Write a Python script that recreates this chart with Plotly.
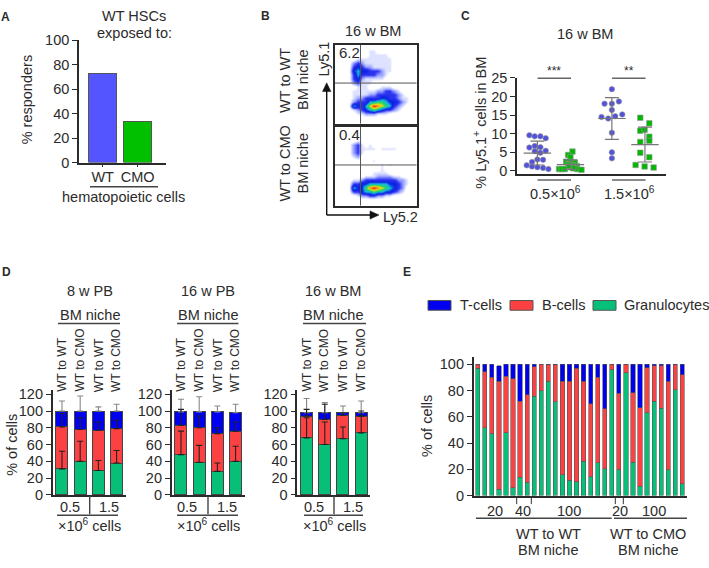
import plotly.graph_objects as go

W, H = 709, 568
INK = "#2b2b2b"
FONT = "Liberation Sans, Arial, sans-serif"
TS = 14.5

# ---------- Panel A
a_cats = ["WT", "CMO"]
a_vals = [73, 33.5]
a_ticks = [0, 20, 40, 60, 80, 100]

# ---------- Panel B (density, 20 x 20 cells, top row first)
b_wt = [
 [0]*20,
 [0,0,0,0,0,0,0,0,1,1,0,0,0,0,0,0,0,0,0,0],
 [0,0,0,0,0,0,0,0,1,1,1,1,1,0,0,0,0,0,0,0],
 [0,0,0,0,0,1,1,1,1,1,1,1,1,1,0,0,0,0,0,0],
 [0,0,0,0,2,3,2,1,1,1,1,1,1,1,0,0,0,0,0,0],
 [0,0,0,0,3,4,3,2,2,1,1,1,1,1,0,0,0,0,0,0],
 [0,0,0,0,4,5,4,4,3,3,3,2,1,1,0,0,0,0,0,0],
 [0,0,0,0,3,5,3,3,3,3,2,2,1,0,0,0,0,0,0,0],
 [0,0,0,0,3,4,2,1,1,1,1,1,0,0,0,0,0,0,0,0],
 [0,0,0,0,2,3,1,1,1,0,0,0,0,0,0,0,0,0,0,0],
 [0,0,0,0,0,1,1,1,0,0,0,1,1,1,0,0,0,0,0,0],
 [0,0,0,0,1,1,1,1,1,1,2,2,3,3,2,1,0,0,0,0],
 [0,0,0,0,1,1,1,1,2,2,3,3,3,3,3,2,1,0,0,0],
 [0,0,0,0,1,2,2,3,3,3,3,4,4,3,3,2,1,1,0,0],
 [0,0,0,0,2,3,3,3,5,5,6,6,5,4,4,3,2,1,0,0],
 [0,0,0,0,5,4,3,5,7,9,8,7,6,5,3,2,1,0,0,0],
 [0,0,0,0,1,2,3,4,5,6,5,4,3,3,2,1,0,0,0,0],
 [0,0,0,0,0,1,1,2,2,2,1,1,1,0,0,0,0,0,0,0],
 [0]*20,
 [0]*20,
]
b_cmo = [
 [0]*20,
 [0]*20,
 [0]*20,
 [0,0,0,0,0,1,0,0,0,0,0,0,0,0,0,0,0,0,0,0],
 [0,0,0,0,2,3,1,0,1,0,0,0,0,0,0,0,0,0,0,0],
 [0,0,0,0,2,3,1,1,1,1,0,1,1,1,1,0,0,0,0,0],
 [0,0,0,0,2,3,1,0,0,0,0,0,0,0,0,0,0,0,0,0],
 [0,0,0,0,1,2,0,0,0,0,0,0,0,0,0,0,0,0,0,0],
 [0,0,0,0,0,0,0,0,0,1,0,0,0,0,0,0,0,0,0,0],
 [0,0,0,0,0,0,0,0,0,0,0,1,0,1,0,0,0,0,0,0],
 [0,0,0,0,0,0,0,0,0,0,0,1,0,0,0,0,0,0,0,0],
 [0,0,0,0,0,0,0,0,0,1,1,1,1,0,0,0,0,0,0,0],
 [0,0,0,0,0,0,0,1,1,1,2,2,2,2,1,1,0,0,0,0],
 [0,0,0,0,1,1,2,3,3,3,3,3,3,3,3,2,2,1,0,0],
 [0,0,0,0,3,3,4,4,5,5,5,5,5,4,4,3,2,1,0,0],
 [0,0,0,0,5,4,4,6,8,9,8,7,6,5,4,3,2,0,0,0],
 [0,0,0,0,3,3,4,5,5,6,5,5,4,4,3,2,1,0,0,0],
 [0,0,0,0,0,1,2,2,3,3,2,2,1,1,0,0,0,0,0,0],
 [0]*20,
 [0]*20,
]
b_scale = [[0, "#ffffff"], [0.06, "#ffffff"], [0.11, "#dfe3ff"], [0.22, "#9aa4ff"], [0.33, "#2c34f2"],
           [0.44, "#0a20e0"], [0.56, "#18c0e0"], [0.67, "#20d060"], [0.78, "#e4e41c"],
           [0.89, "#ff8c10"], [1, "#e81010"]]

# ---------- Panel C
c_groups = [1.0, 1.99, 3.23, 4.22]
c_g1_x = [-.24,-.08,.09,.25,-.24,-.08,.09,-.08,.09,.25,0,.17,-.16,-.32,-.16,0,.17,.33]
c_g1_y = [9.6,9.3,9.3,8.8,6.3,6.7,6.4,5.3,4.9,5.4,3.1,3.0,2.4,1.5,1.2,1.0,.8,.5]
c_g2_x = [.06,-.07,0,-.13,0,.13,-.07,.06,.19,-.34,-.26,-.17,0,.13,.2,.33,.08,-.04]
c_g2_y = [5.2,4.3,3.7,2.5,2.4,2.2,1.8,1.6,1.3,.5,.5,.5,1.0,1.0,.5,.3,.7,1.4]
c_g3_x = [0,-.22,0,.21,0,-.31,-.11,.1,.31,0,0,0]
c_g3_y = [22,18.1,18.1,18.7,16.4,14.5,14.1,14.7,15.2,10.3,5.0,3.4]
c_g4_x = [-.14,.13,-.14,-.01,.13,.13,-.14,-.14,.13,-.28,-.01,.26]
c_g4_y = [14.3,12.8,10.8,11.1,9.2,8.1,7.8,4.9,3.7,1.6,1.2,.9]
c_means = [4.8, 1.7, 14.1, 7.1]
c_sds = [3.2, 1.3, 5.6, 4.7]
c_ticks = [0, 5, 10, 15, 20, 25]

# ---------- Panel D
d_ticks = [0, 20, 40, 60, 80, 100, 120]
d_niche = ["WT to WT", "WT to CMO", "WT to WT", "WT to CMO"]
d1_gran = [31, 40, 29, 38]
d1_b = [50, 38, 48, 41]
d1_t = [19, 22, 23, 21]
d1_gran_err = [21, 24, 12, 15]
d1_b_err = [16, 14, 10, 10]
d1_t_err = [12, 18, 5, 8]
d2_gran = [48, 39, 28, 40]
d2_b = [35, 41, 45, 36]
d2_t = [16, 19, 26, 22]
d2_gran_err = [28, 20, 10, 18]
d2_b_err = [19, 14, 7, 11]
d2_t_err = [15, 18, 7, 10]
d3_gran = [68, 60, 67, 74]
d3_b = [26, 30, 28, 20]
d3_t = [4, 8, 3, 4]
d3_gran_err = [24, 27, 14, 20]
d3_b_err = [8, 18, 3, 6]
d3_t_err = [17, 12, 8, 14]

# ---------- Panel E
e_gran = [97,51.5,47,5,48,6,14,10,75.5,80,87,71.5,16,11.5,10.5,26,14.5,25,20.5,96,19.5,93.5,25.5,7,63,72,66.5,19.5,80.5,9]
e_b = [3,43,43,82,43,83,58,67,22.5,20,12.5,28,71,75.5,86.5,61,55.5,65,45.5,4,58.5,6.5,53,60,34.5,27,32.5,67.5,19,83]
e_t = [0,5.5,10,12,9,11,28,23,2,0,.5,.5,13,13,3,13,30,10,34,0,22,0,21.5,33,2.5,1,1,13,.5,8]
e_ticks = [0, 20, 40, 60, 80, 100]

BLUE, RED, GREEN = "#0000f0", "#fb4141", "#06bf78"

fig = go.Figure()
layout = {}
shapes, notes = [], []
n_axes = [0]

def fx(p): return p / W
def fy(p): return 1 - p / H

def axes(x0, x1, y0, y1, xr, yr, xopts=None, yopts=None):
    n_axes[0] += 1
    n = n_axes[0]
    s = "" if n == 1 else str(n)
    base = dict(showgrid=False, zeroline=False, showline=True, linecolor=INK, linewidth=1.6,
                ticks="outside", tickcolor=INK, tickwidth=1.4, ticklen=5,
                tickfont=dict(size=TS, color=INK, family=FONT), fixedrange=True)
    xa = dict(base, domain=[fx(x0), fx(x1)], range=xr, anchor=f"y{s}", showticklabels=False, ticks="")
    ya = dict(base, domain=[fy(y1), fy(y0)], range=yr, anchor=f"x{s}")
    xa.update(xopts or {})
    ya.update(yopts or {})
    layout[f"xaxis{s}"] = xa
    layout[f"yaxis{s}"] = ya
    return f"x{s}", f"y{s}"

def text(s, x, y, size=TS, angle=0, xanchor="center", yanchor="middle", bold=False, xref="paper", xv=None):
    notes.append(dict(text=f"<b>{s}</b>" if bold else s,
                      x=xv if xv is not None else fx(x), xref=xref, y=fy(y), yref="paper",
                      showarrow=False, textangle=angle, xanchor=xanchor, yanchor=yanchor,
                      font=dict(size=size, color=INK, family=FONT)))

def line(x0, y0, x1, y1, color="#444444", width=1.4):
    shapes.append(dict(type="line", xref="paper", yref="paper", x0=fx(x0), x1=fx(x1),
                       y0=fy(y0), y1=fy(y1), line=dict(color=color, width=width)))

def head(points):
    path = "M " + " L ".join(f"{fx(px):.5f} {fy(py):.5f}" for px, py in points) + " Z"
    shapes.append(dict(type="path", xref="paper", yref="paper", path=path,
                       fillcolor="#111111", line=dict(color="#111111", width=0.5)))

# ---- A
xa, ya = axes(79, 166, 33, 159, [-0.677, 1.81], [0, 100],
              dict(tickmode="array", tickvals=[0, 1], ticktext=a_cats, showticklabels=True,
                   ticks="outside", ticklen=3, ticklabelstandoff=-3),
              dict(tickvals=a_ticks))
fig.add_bar(x=[0, 1], y=a_vals, width=0.8, xaxis=xa, yaxis=ya,
            marker=dict(color=["#5555ff", "#00c000"], line=dict(color="#555555", width=1)))
text("WT HSCs", 134, 8)
text("exposed to:", 134, 26)
line(90, 184, 158, 184)
text("hematopoietic cells", 123, 194)
text("% responders", 27, 95, angle=-90)
text("A", 5, 9, size=12, bold=True)

# ---- B
for z, top, gate in ((b_wt, 37.7, 10.3), (b_cmo, 122, 10.3)):
    xa, ya = axes(334.7, 416.7, top, top + 81.5, [0, 20], [0, 20],
                  dict(mirror=True, showticklabels=False, ticks=""),
                  dict(mirror=True, showticklabels=False, ticks=""))
    fig.add_heatmap(z=z[::-1], x0=0.5, dx=1, y0=0.5, dy=1, xaxis=xa, yaxis=ya, zmin=0, zmax=9,
                    colorscale=b_scale, showscale=False, zsmooth="best", hoverinfo="skip")
    for sh in (dict(x0=6.3, x1=6.3, y0=0, y1=20), dict(x0=0, x1=20, y0=gate, y1=gate)):
        shapes.append(dict(type="line", xref=xa, yref=ya, line=dict(color="#555555", width=1), **sh))
text("B", 265, 8, size=12, bold=True)
text("16 w BM", 373, 24)
text("6.2", 336.5, 46, size=15, xanchor="left")
text("0.4", 336.5, 130.5, size=15, xanchor="left")
text("WT to WT", 285, 75, angle=-90)
text("BM niche", 303, 74, angle=-90)
text("WT to CMO", 285, 160, angle=-90)
text("BM niche", 303, 160, angle=-90)
text("Ly5.1", 324, 53, angle=-90)
text("Ly5.2", 400, 215)
line(326.7, 213, 326.7, 84, color="#111111")
line(326.7, 213, 372, 213, color="#111111")
head([(326.7, 77), (322.5, 86), (330.9, 86)])
head([(379, 213), (370, 208.8), (370, 217.2)])

# ---- C
xa, ya = axes(517, 666, 72, 171, [0.39, 4.85], [-0.87, 25],
              None, dict(tickvals=c_ticks))
series = [(c_g1_x, c_g1_y, "circle", "#5252dc", 0), (c_g2_x, c_g2_y, "square", "#00b800", 1),
          (c_g3_x, c_g3_y, "circle", "#5252dc", 2), (c_g4_x, c_g4_y, "square", "#00b800", 3)]
for sx, sy, sym, col, g in series:
    fig.add_scatter(x=[c_groups[g] + d for d in sx], y=sy, mode="markers", xaxis=xa, yaxis=ya,
                    marker=dict(symbol=sym, color=col, size=5.5, line=dict(color="#999999", width=0.6)))
fig.add_scatter(x=c_groups, y=c_means, mode="markers", xaxis=xa, yaxis=ya,
                marker=dict(size=1, color="#777777"),
                error_y=dict(type="data", array=c_sds, color="#777777", thickness=1.2, width=7),
                error_x=dict(type="constant", value=0.41, color="#777777", thickness=1.2, width=0))
line(537.5, 72.3, 571, 72.3, color="#666666")
line(612, 72.3, 645.5, 72.3, color="#666666")
line(537.5, 177, 571, 177, color="#666666")
line(612, 177, 645.5, 177, color="#666666")
text("***", 554, 65, size=12)
text("**", 629, 65, size=12)
text("0.5×10<sup>6</sup>", 555, 190)
text("1.5×10<sup>6</sup>", 629, 190)
text("16 w BM", 585, 27)
text("% Ly5.1<sup>+</sup> cells in BM", 480, 118, angle=-90)
text("C", 465, 8, size=12, bold=True)

# ---- D
panels = [
    (52.7, 125.7, d1_gran, d1_b, d1_t, d1_gran_err, d1_b_err, d1_t_err, "8 w PB", 90, (58, 120), 89.7, (57, 118), (70, 109)),
    (171.7, 244.7, d2_gran, d2_b, d2_t, d2_gran_err, d2_b_err, d2_t_err, "16 w PB", 208, (177, 238.5), 208, (177, 238), (187, 227)),
    (297.3, 370.3, d3_gran, d3_b, d3_t, d3_gran_err, d3_b_err, d3_t_err, "16 w BM", 333, (303, 366), 334, (304, 363), (314, 353)),
]
for x0, x1, gran, b, t, ge, be, te, title, cx, ul, div, low, lab in panels:
    xa, ya = axes(x0, x1, 392.7, 501, [-0.51, 3.5], [0, 125.5], None, dict(tickvals=d_ticks))
    pos = [0, 1, 2, 3]
    for vals, col in ((gran, GREEN), (b, RED), (t, BLUE)):
        fig.add_bar(x=pos, y=vals, width=0.66, xaxis=xa, yaxis=ya,
                    marker=dict(color=col, line=dict(color="#444444", width=1)))
    # error bars sit on the cumulative stack top and must stay visible above the bars
    top_g = list(gran)
    top_b = [g + r for g, r in zip(gran, b)]
    top_t = [g + r + s for g, r, s in zip(gran, b, t)]
    for tops, err, ecol in ((top_t, te, "#888888"), (top_b, be, "#222222"), (top_g, ge, "#222222")):
        fig.add_scatter(x=pos, y=tops, mode="markers", xaxis=xa, yaxis=ya,
                        marker=dict(size=1, color=ecol),
                        error_y=dict(type="data", symmetric=False, array=err, arrayminus=[0]*4,
                                     color=ecol, thickness=1.1, width=3))
    for i, lbl in zip(pos, d_niche):
        text(lbl, 0, 397, size=12, angle=-90, yanchor="bottom", xref=xa, xv=i)
    text(title, cx, 291)
    text("BM niche", cx, 316)
    line(ul[0], 324.7, ul[1], 324.7)
    line(div, 502, div, 521)
    line(low[0], 522, low[1], 522)
    text("0.5", lab[0], 513)
    text("1.5", lab[1], 513)
    text("×10<sup>6</sup> cells", div, 532)
text("% of cells", 12.5, 450, angle=-90)
text("D", 6, 272, size=12, bold=True)

# ---- E
xa, ya = axes(473.7, 687, 358.7, 501.7, [-0.57, 29.66], [0, 105.9], None, dict(tickvals=e_ticks))
pos = list(range(len(e_gran)))
for vals, col in ((e_gran, GREEN), (e_b, RED), (e_t, BLUE)):
    fig.add_bar(x=pos, y=vals, width=0.6, xaxis=xa, yaxis=ya,
                marker=dict(color=col, line=dict(color="#555555", width=0.6)))
for sx in (516.7, 531.3, 615.3, 623.3):
    line(sx, 502, sx, 510.5, color="#333333", width=1)
text("20", 495, 518)
text("40", 523, 518)
text("100", 569, 518)
text("20", 620, 518)
text("100", 654, 518)
line(476, 525, 611.7, 525)
line(614, 525, 687, 525)
text("WT to WT", 548, 541)
text("BM niche", 548, 558)
text("WT to CMO", 648, 541)
text("BM niche", 648, 558)
text("% of cells", 427, 430, angle=-90)
text("E", 407, 272, size=12, bold=True)
legend_items = [("T-cells", BLUE, 428, 458), ("B-cells", RED, 510, 540), ("Granulocytes", GREEN, 593, 622)]
for name, col, sx, tx in legend_items:
    shapes.append(dict(type="rect", xref="paper", yref="paper", x0=fx(sx), x1=fx(sx + 23),
                       y0=fy(311), y1=fy(301), fillcolor=col, line=dict(color="#555555", width=1)))
    text(name, tx, 306, xanchor="left")

fig.update_layout(
    width=W, height=H, margin=dict(l=0, r=0, t=0, b=0), barmode="stack", showlegend=False,
    paper_bgcolor="white", plot_bgcolor="rgba(0,0,0,0)", font=dict(family=FONT, color=INK),
    shapes=shapes, annotations=notes, **layout)
fig.write_html("out.html", config={"displayModeBar": False},
               post_script="document.body.style.margin='0';document.body.style.overflow='hidden';")
